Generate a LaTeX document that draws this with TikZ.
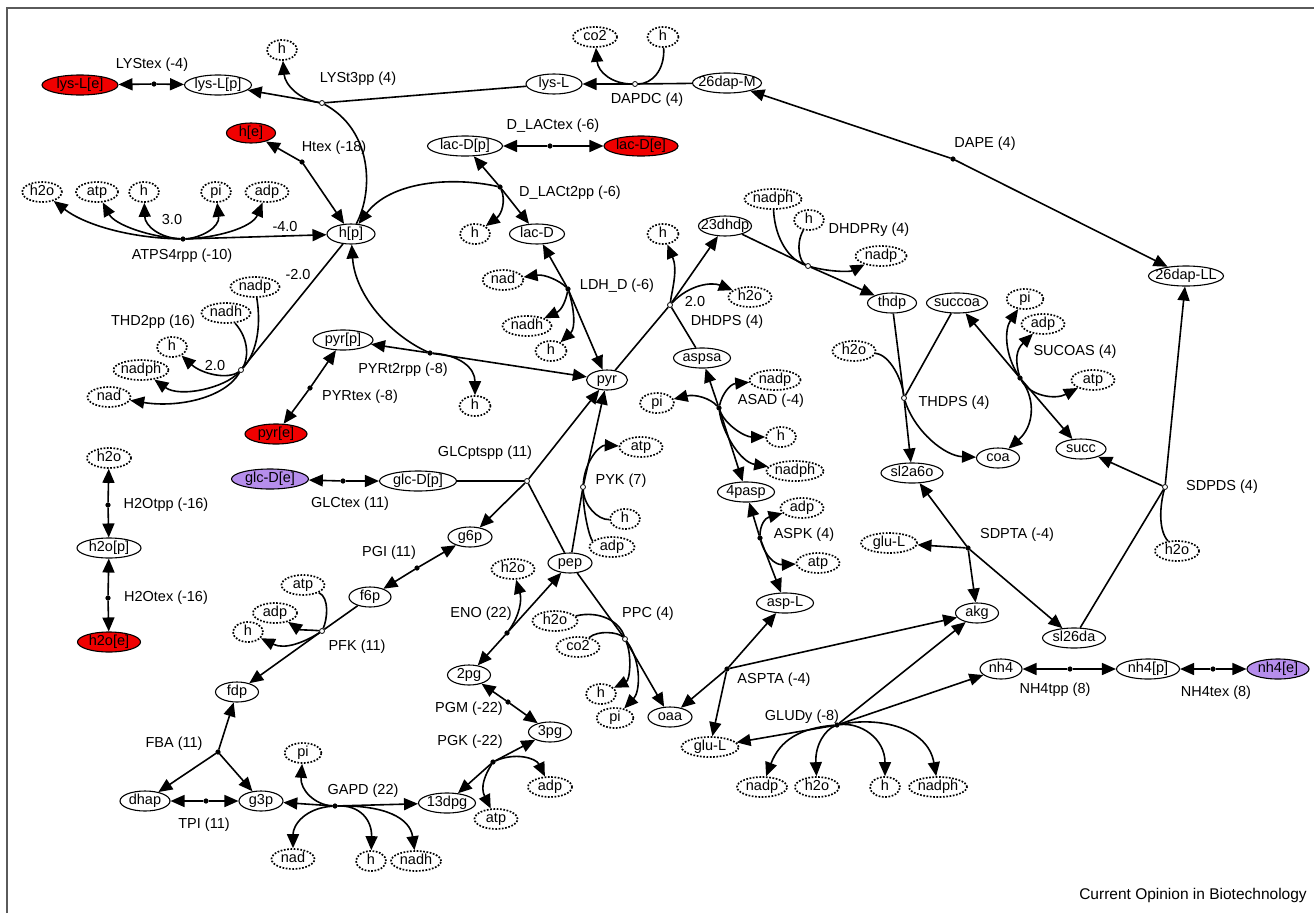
\documentclass[tikz,border=0pt]{standalone}
\usepackage{fontspec}
\setmainfont{Liberation Sans}
\usetikzlibrary{arrows.meta,shapes.geometric}
\definecolor{exred}{RGB}{240,0,0}
\definecolor{exvio}{RGB}{182,142,236}
\definecolor{framec}{RGB}{90,90,90}
\newcommand\cl[1]{\hbox to 0pt{\hss#1\hss}}
\newcommand\N[5]{\node[#1,minimum width=#5pt] (#2) at (#3) {\cl{#4}};}
\begin{document}
\begin{tikzpicture}[x=1pt,y=-1pt,
  every node/.style={font=\fontsize{14.5}{17}\selectfont},
  base/.style={ellipse, inner sep=0pt, minimum height=20pt, text height=10.5pt, text depth=3pt, line width=1.1pt},
  met/.style={base, draw, fill=white},
  cof/.style={base, draw, line width=1.7pt, dash pattern=on 1.7pt off 1.6pt, fill=white},
  exr/.style={base, draw, fill=exred},
  exv/.style={base, draw, fill=exvio},
  rf/.style={circle, draw, fill=black, inner sep=0pt, minimum size=4.5pt, line width=0.6pt},
  ro/.style={circle, draw, fill=white, inner sep=0pt, minimum size=5pt, line width=0.8pt},
  lbl/.style={inner sep=0pt},
  ed/.style={line width=1.6pt},
  ar/.style={ed, -{Triangle[length=14pt,width=12pt]}},
]
\useasboundingbox (0,0) rectangle (1314,913);
\draw[framec, line width=2.5pt] (7,913) -- (7,8) -- (1314,8);

% ---------- metabolite nodes ----------
\N{exr}{lysLe}{80,85}{lys-L[e]}{76}
\N{met}{lysLp}{218,85}{lys-L[p]}{67}
\N{cof}{hA}{282,50}{h}{30}
\N{met}{lysL}{554,84}{lys-L}{56}
\N{cof}{coA}{595,37}{co2}{44}
\N{cof}{hB}{663,37}{h}{31}
\N{met}{dapM}{727,83}{26dap-M}{69}
\N{met}{dapLL}{1186,276}{26dap-LL}{75}
\N{met}{lacDp}{465,146}{lac-D[p]}{75}
\N{exr}{lacDe}{641,146}{lac-D[e]}{74}
\N{exr}{he}{251,133}{h[e]}{49}
\N{met}{hp}{351,234}{h[p]}{48}
\N{cof}{hC}{475,234}{h}{30}
\N{met}{lacD}{537,234}{lac-D}{55}
\N{cof}{h2oA}{42,192}{h2o}{40}
\N{cof}{atpA}{97,192}{atp}{42}
\N{cof}{hD}{144,192}{h}{30}
\N{cof}{piA}{216,192}{pi}{30}
\N{cof}{adpA}{267,192}{adp}{43}
\N{cof}{nadpA}{255,287}{nadp}{49}
\N{cof}{nadhA}{226,313}{nadh}{49}
\N{cof}{hE}{172,347}{h}{30}
\N{cof}{nadphA}{141,370}{nadph}{55}
\N{cof}{nadA}{109,397}{nad}{43}
\N{met}{pyrp}{343,340}{pyr[p]}{60}
\N{exr}{pyre}{276,434}{pyr[e]}{62}
\N{cof}{hF}{475,406}{h}{31}
\N{met}{pyr}{607,380}{pyr}{41}
\N{cof}{nadB}{503,280}{nad}{41}
\N{cof}{nadhB}{527,326}{nadh}{49}
\N{cof}{hG}{551,351}{h}{31}
\N{met}{dhdp}{725,226}{23dhdp}{53}
\N{cof}{hH}{663,234}{h}{31}
\N{cof}{h2oB}{750,297}{h2o}{43}
\N{met}{aspsa}{702,358}{aspsa}{57}
\N{cof}{nadphB}{773,199}{nadph}{57}
\N{cof}{hI}{809,220}{h}{30}
\N{cof}{nadpB}{881,256}{nadp}{51}
\N{met}{thdp}{892,303}{thdp}{49}
\N{met}{succoa}{957,303}{succoa}{61}
\N{cof}{piB}{1025,299}{pi}{37}
\N{cof}{adpB}{1043,324}{adp}{43}
\N{cof}{atpB}{1093,380}{atp}{43}
\N{met}{coa}{998,458}{coa}{43}
\N{met}{succ}{1081,449}{succ}{50}
\N{cof}{h2oC}{1177,551}{h2o}{44}
\N{cof}{h2oD}{854,351}{h2o}{43}
\N{met}{sla}{912,473}{sl2a6o}{62}
\N{cof}{gluA}{889,543}{glu-L}{56}
\N{met}{akg}{977,613}{akg}{43}
\N{met}{sld}{1074,638}{sl26da}{63}
\N{met}{nh4}{1001,669}{nh4}{42}
\N{met}{nh4p}{1148,669}{nh4[p]}{63}
\N{exv}{nh4e}{1278,669}{nh4[e]}{62}
\N{met}{aspL}{785,603}{asp-L}{57}
\N{met}{oaa}{670,717}{oaa}{44}
\N{cof}{gluB}{710,747}{glu-L}{57}
\N{cof}{nadpC}{762,787}{nadp}{50}
\N{cof}{h2oE}{817,787}{h2o}{44}
\N{cof}{hJ}{885,787}{h}{30}
\N{cof}{nadphC}{938,787}{nadph}{58}
\N{met}{pasp}{746,492}{4pasp}{57}
\N{cof}{piC}{657,403}{pi}{34}
\N{cof}{nadpD}{775,380}{nadp}{51}
\N{cof}{hK}{781,437}{h}{30}
\N{cof}{nadphD}{795,471}{nadph}{57}
\N{cof}{adpC}{802,508}{adp}{43}
\N{cof}{atpC}{818,563}{atp}{43}
\N{cof}{atpD}{641,447}{atp}{43}
\N{cof}{hL}{625,519}{h}{30}
\N{cof}{adpD}{612,547}{adp}{45}
\N{met}{pep}{570,563}{pep}{44}
\N{met}{glcDp}{418,481}{glc-D[p]}{77}
\N{exv}{glcDe}{270,479}{glc-D[e]}{77}
\N{met}{gsp}{470,537}{g6p}{44}
\N{met}{fsp}{370,597}{f6p}{42}
\N{cof}{atpE}{303,585}{atp}{43}
\N{cof}{adpE}{275,613}{adp}{44}
\N{cof}{hM}{248,632}{h}{30}
\N{met}{fdp}{237,692}{fdp}{43}
\N{met}{dhap}{145,801}{dhap}{50}
\N{met}{gtp}{261,801}{g3p}{44}
\N{cof}{piD}{303,753}{pi}{37}
\N{cof}{nadC}{293,859}{nad}{43}
\N{cof}{hN}{371,861}{h}{30}
\N{cof}{nadhC}{416,861}{nadh}{50}
\N{met}{dpg}{447,803}{13dpg}{57}
\N{met}{pgt}{550,732}{3pg}{43}
\N{cof}{adpF}{550,787}{adp}{44}
\N{cof}{atpF}{496,819}{atp}{43}
\N{met}{pgd}{469,675}{2pg}{43}
\N{cof}{h2oF}{513,569}{h2o}{43}
\N{cof}{h2oG}{555,621}{h2o}{45}
\N{cof}{coB}{578,647}{co2}{43}
\N{cof}{hO}{601,694}{h}{30}
\N{cof}{piE}{615,718}{pi}{37}
\N{cof}{h2oH}{109,458}{h2o}{44}
\N{met}{h2op}{109,548}{h2o[p]}{64}
\N{exr}{h2oe}{109,642}{h2o[e]}{63}

% ---------- reaction points ----------
\node[rf] (rLYStex) at (154,84) {};
\node[ro] (rLYSt3pp) at (322,103) {};
\node[ro] (rDAPDC) at (635,84) {};
\node[rf] (rDAPE) at (953,159) {};
\node[rf] (rDLACtex) at (550,146) {};
\node[rf] (rDLACt2pp) at (500,187) {};
\node[rf] (rHtex) at (302,162) {};
\node[rf] (rATPS) at (183,239) {};
\node[ro] (rTHD) at (241,370) {};
\node[rf] (rPYRtex) at (310,388) {};
\node[rf] (rPYRt2) at (430,353) {};
\node[rf] (rLDH) at (568,289) {};
\node[ro] (rDHDPS) at (670,305) {};
\node[ro] (rDHDPR) at (808,266) {};
\node[rf] (rSUCOAS) at (1020,378) {};
\node[ro] (rTHDPS) at (904,398) {};
\node[ro] (rSDPDS) at (1165,487) {};
\node[rf] (rSDPTA) at (968,548) {};
\node[rf] (rNHtpp) at (1070,669) {};
\node[rf] (rNHtex) at (1213,669) {};
\node[rf] (rASPTA) at (727,669) {};
\node[rf] (rGLUDy) at (837,725) {};
\node[rf] (rASAD) at (719,408) {};
\node[rf] (rASPK) at (760,538) {};
\node[ro] (rPYK) at (583,487) {};
\node[ro] (rGLCpt) at (527,481) {};
\node[rf] (rGLCtex) at (343,481) {};
\node[rf] (rPGI) at (417,568) {};
\node[ro] (rPFK) at (322,631) {};
\node[rf] (rFBA) at (218,752) {};
\node[rf] (rTPI) at (206,801) {};
\node[rf] (rGAPD) at (335,806) {};
\node[rf] (rPGK) at (493,762) {};
\node[rf] (rPGM) at (508,702) {};
\node[rf] (rENO) at (507,633) {};
\node[ro] (rPPC) at (625,639) {};
\node[rf] (rHtpp) at (108,505) {};
\node[rf] (rHtex2) at (108,598) {};

% ---------- labels ----------
\node[lbl] (lLYStex) at (152,65) {LYStex (-4)};
\node[lbl] (lLYSt3pp) at (358,79) {LYSt3pp (4)};
\node[lbl] (lDAPDC) at (647,100) {DAPDC (4)};
\node[lbl] (lDAPE) at (985,144) {DAPE (4)};
\node[lbl] (lDLACtex) at (553,126) {D\_LACtex (-6)};
\node[lbl] (lDLACt2pp) at (570,193) {D\_LACt2pp (-6)};
\node[lbl] (lHtex) at (334,148) {Htex (-18)};
\node[lbl] (lATPS) at (182,256) {ATPS4rpp (-10)};
\node[lbl] (lATPSa) at (172,220) {3.0};
\node[lbl] (lATPSb) at (285,227) {-4.0};
\node[lbl] (lTHDa) at (298,275) {-2.0};
\node[lbl] (lTHD) at (153,322) {THD2pp (16)};
\node[lbl] (lTHDb) at (215,366) {2.0};
\node[lbl] (lPYRtex) at (360,397) {PYRtex (-8)};
\node[lbl] (lPYRt2) at (403,370) {PYRt2rpp (-8)};
\node[lbl] (lLDH) at (617,286) {LDH\_D (-6)};
\node[lbl] (lDHDPSa) at (695,302) {2.0};
\node[lbl] (lDHDPS) at (727,322) {DHDPS (4)};
\node[lbl] (lDHDPR) at (869,230) {DHDPRy (4)};
\node[lbl] (lSUCOAS) at (1075,352) {SUCOAS (4)};
\node[lbl] (lTHDPS) at (954,403) {THDPS (4)};
\node[lbl] (lSDPDS) at (1222,487) {SDPDS (4)};
\node[lbl] (lSDPTA) at (1017,535) {SDPTA (-4)};
\node[lbl] (lNHtpp) at (1055,690) {NH4tpp (8)};
\node[lbl] (lNHtex) at (1216,693) {NH4tex (8)};
\node[lbl] (lASPTA) at (774,680) {ASPTA (-4)};
\node[lbl] (lGLUDy) at (802,717) {GLUDy (-8)};
\node[lbl] (lASAD) at (771,401) {ASAD (-4)};
\node[lbl] (lASPK) at (804,535) {ASPK (4)};
\node[lbl] (lPYK) at (621,481) {PYK (7)};
\node[lbl] (lGLCpt) at (485,453) {GLCptspp (11)};
\node[lbl] (lGLCtex) at (350,504) {GLCtex (11)};
\node[lbl] (lPGI) at (389,553) {PGI (11)};
\node[lbl] (lPFK) at (357,647) {PFK (11)};
\node[lbl] (lFBA) at (174,744) {FBA (11)};
\node[lbl] (lTPI) at (204,825) {TPI (11)};
\node[lbl] (lGAPD) at (363,791) {GAPD (22)};
\node[lbl] (lPGK) at (470,742) {PGK (-22)};
\node[lbl] (lPGM) at (469,709) {PGM (-22)};
\node[lbl] (lENO) at (481,614) {ENO (22)};
\node[lbl] (lPPC) at (648,614) {PPC (4)};
\node[lbl] (lHtpp) at (166,505) {H2Otpp (-16)};
\node[lbl] (lHtex2) at (166,598) {H2Otex (-16)};
\node[lbl,font=\fontsize{15.5}{18}\selectfont] (credit) at (1193,895) {Current Opinion in Biotechnology};

% ---------- edges ----------
% LYStex
\draw[ar] (rLYStex) -- (lysLe);
\draw[ar] (rLYStex) -- (lysLp);
% LYSt3pp
\draw[ed] (lysL) -- (rLYSt3pp);
\draw[ar] (rLYSt3pp) -- (lysLp);
\draw[ar] (rLYSt3pp) .. controls (300,100) and (285,85) .. (hA);
\draw[ed] (rLYSt3pp) .. controls (372,130) and (374,190) .. (hp);
% DAPDC
\draw[ed] (dapM) -- (rDAPDC);
\draw[ar] (rDAPDC) -- (lysL);
\draw[ar] (rDAPDC) .. controls (612,84) and (598,72) .. (coA);
\draw[ed] (hB) .. controls (665,70) and (652,84) .. (rDAPDC);
% DAPE
\draw[ar] (rDAPE) -- (dapM);
\draw[ar] (rDAPE) -- (dapLL);
% D_LACtex
\draw[ar] (rDLACtex) -- (lacDp);
\draw[ar] (rDLACtex) -- (lacDe);
% D_LACt2pp
\draw[ar] (rDLACt2pp) -- (lacDp);
\draw[ar] (rDLACt2pp) -- (lacD);
\draw[ar] (rDLACt2pp) .. controls (450,176) and (390,182) .. (hp);
\draw[ar] (rDLACt2pp) .. controls (506,200) and (502,214) .. (hC);
% Htex
\draw[ar] (rHtex) -- (he);
\draw[ar] (rHtex) -- (hp);
% ATPS4rpp
\draw[ar] (rATPS) .. controls (130,238) and (85,225) .. (h2oA);
\draw[ar] (rATPS) .. controls (150,237) and (115,225) .. (atpA);
\draw[ar] (rATPS) .. controls (160,238) and (145,226) .. (hD);
\draw[ar] (rATPS) .. controls (200,238) and (220,228) .. (piA);
\draw[ar] (rATPS) .. controls (215,238) and (252,228) .. (adpA);
\draw[ar] (rATPS) -- (hp);
% THD2pp
\draw[ed] (hp) -- (rTHD);
\draw[ed] (nadpA) .. controls (262,330) and (255,355) .. (rTHD);
\draw[ed] (nadhA) .. controls (250,340) and (248,360) .. (rTHD);
\draw[ar] (rTHD) .. controls (228,380) and (202,374) .. (hE);
\draw[ar] (rTHD) .. controls (225,388) and (180,398) .. (nadphA);
\draw[ar] (rTHD) .. controls (225,398) and (178,408) .. (nadA);
% PYRtex
\draw[ar] (rPYRtex) -- (pyrp);
\draw[ar] (rPYRtex) -- (pyre);
% PYRt2rpp
\draw[ar] (rPYRt2) -- (pyrp);
\draw[ar] (rPYRt2) -- (pyr);
\draw[ar] (rPYRt2) .. controls (390,335) and (355,295) .. (hp);
\draw[ar] (rPYRt2) .. controls (460,355) and (475,368) .. (hF);
% LDH_D
\draw[ar] (rLDH) -- (lacD);
\draw[ar] (rLDH) -- (pyr);
\draw[ar] (rLDH) .. controls (560,281) and (545,274) .. (nadB);
\draw[ar] (rLDH) .. controls (566,300) and (562,310) .. (nadhB);
\draw[ar] (rLDH) .. controls (574,308) and (576,328) .. (hG);
% DHDPS
\draw[ed] (pyr) -- (rDHDPS);
\draw[ed] (aspsa) -- (rDHDPS);
\draw[ar] (rDHDPS) -- (dhdp);
\draw[ar] (rDHDPS) .. controls (672,290) and (678,270) .. (hH);
\draw[ar] (rDHDPS) .. controls (690,284) and (712,282) .. (h2oB);
% DHDPRy
\draw[ed] (dhdp) -- (rDHDPR);
\draw[ar] (rDHDPR) -- (thdp);
\draw[ed] (nadphB) .. controls (775,240) and (790,260) .. (rDHDPR);
\draw[ed] (hI) .. controls (795,245) and (800,262) .. (rDHDPR);
\draw[ar] (rDHDPR) .. controls (830,272) and (850,272) .. (nadpB);
% THDPS
\draw[ed] (thdp) -- (rTHDPS);
\draw[ed] (succoa) -- (rTHDPS);
\draw[ed] (h2oD) .. controls (890,355) and (902,380) .. (rTHDPS);
\draw[ar] (rTHDPS) -- (sla);
\draw[ar] (rTHDPS) .. controls (915,432) and (945,456) .. (coa);
% SUCOAS
\draw[ar] (rSUCOAS) -- (succoa);
\draw[ar] (rSUCOAS) -- (succ);
\draw[ar] (rSUCOAS) .. controls (1005,355) and (1004,330) .. (piB);
\draw[ar] (rSUCOAS) .. controls (1015,360) and (1016,350) .. (adpB);
\draw[ar] (rSUCOAS) .. controls (1030,396) and (1055,400) .. (atpB);
\draw[ar] (rSUCOAS) .. controls (1036,400) and (1034,426) .. (coa);
% SDPDS
\draw[ed] (sld) -- (rSDPDS);
\draw[ar] (rSDPDS) -- (dapLL);
\draw[ar] (rSDPDS) -- (succ);
\draw[ed] (h2oC) .. controls (1158,530) and (1160,505) .. (rSDPDS);
% SDPTA
\draw[ar] (rSDPTA) -- (sla);
\draw[ar] (rSDPTA) -- (sld);
\draw[ar] (rSDPTA) -- (gluA);
\draw[ar] (rSDPTA) -- (akg);
% NH4
\draw[ar] (rNHtpp) -- (nh4);
\draw[ar] (rNHtpp) -- (nh4p);
\draw[ar] (rNHtex) -- (nh4p);
\draw[ar] (rNHtex) -- (nh4e);
% ASPTA
\draw[ar] (rASPTA) -- (aspL);
\draw[ar] (rASPTA) -- (akg);
\draw[ar] (rASPTA) -- (oaa);
\draw[ar] (rASPTA) -- (gluB);
% GLUDy
\draw[ar] (rGLUDy) -- (akg);
\draw[ar] (rGLUDy) -- (nh4);
\draw[ar] (rGLUDy) -- (gluB);
\draw[ar] (rGLUDy) .. controls (800,728) and (780,740) .. (nadpC);
\draw[ar] (rGLUDy) .. controls (825,730) and (815,745) .. (h2oE);
\draw[ar] (rGLUDy) .. controls (860,722) and (885,738) .. (hJ);
\draw[ar] (rGLUDy) .. controls (880,716) and (928,728) .. (nadphC);
% ASAD
\draw[ar] (rASAD) -- (aspsa);
\draw[ar] (rASAD) -- (pasp);
\draw[ar] (rASAD) .. controls (710,398) and (695,394) .. (piC);
\draw[ar] (rASAD) .. controls (722,394) and (730,384) .. (nadpD);
\draw[ar] (rASAD) .. controls (725,425) and (745,437) .. (hK);
\draw[ar] (rASAD) .. controls (722,432) and (740,462) .. (nadphD);
% ASPK
\draw[ar] (rASPK) -- (pasp);
\draw[ar] (rASPK) -- (aspL);
\draw[ar] (rASPK) .. controls (760,525) and (765,518) .. (adpC);
\draw[ar] (rASPK) .. controls (765,556) and (775,565) .. (atpC);
% PYK
\draw[ed] (pep) -- (rPYK);
\draw[ar] (rPYK) -- (pyr);
\draw[ar] (rPYK) .. controls (585,460) and (600,445) .. (atpD);
\draw[ed] (hL) .. controls (598,520) and (584,506) .. (rPYK);
\draw[ed] (adpD) .. controls (590,540) and (583,512) .. (rPYK);
% GLCptspp
\draw[ed] (glcDp) -- (rGLCpt);
\draw[ed] (pep) -- (rGLCpt);
\draw[ar] (rGLCpt) -- (pyr);
\draw[ar] (rGLCpt) -- (gsp);
% GLCtex
\draw[ar] (rGLCtex) -- (glcDe);
\draw[ar] (rGLCtex) -- (glcDp);
% PGI
\draw[ar] (rPGI) -- (gsp);
\draw[ar] (rPGI) -- (fsp);
% PFK
\draw[ed] (fsp) -- (rPFK);
\draw[ar] (rPFK) -- (fdp);
\draw[ed] (atpE) .. controls (330,598) and (327,620) .. (rPFK);
\draw[ar] (rPFK) .. controls (312,630) and (300,630) .. (adpE);
\draw[ar] (rPFK) .. controls (305,642) and (285,650) .. (hM);
% FBA, TPI
\draw[ar] (rFBA) -- (fdp);
\draw[ar] (rFBA) -- (dhap);
\draw[ar] (rFBA) -- (gtp);
\draw[ar] (rTPI) -- (dhap);
\draw[ar] (rTPI) -- (gtp);
% GAPD
\draw[ar] (rGAPD) -- (gtp);
\draw[ar] (rGAPD) -- (dpg);
\draw[ar] (rGAPD) .. controls (315,805) and (300,790) .. (piD);
\draw[ar] (rGAPD) .. controls (305,808) and (293,825) .. (nadC);
\draw[ar] (rGAPD) .. controls (360,805) and (372,820) .. (hN);
\draw[ar] (rGAPD) .. controls (385,805) and (410,818) .. (nadhC);
% PGK
\draw[ar] (rPGK) -- (pgt);
\draw[ar] (rPGK) -- (dpg);
\draw[ar] (rPGK) .. controls (515,752) and (536,758) .. (adpF);
\draw[ar] (rPGK) .. controls (485,775) and (480,787) .. (atpF);
% PGM
\draw[ar] (rPGM) -- (pgd);
\draw[ar] (rPGM) -- (pgt);
% ENO
\draw[ar] (rENO) -- (pep);
\draw[ar] (rENO) -- (pgd);
\draw[ar] (rENO) .. controls (520,615) and (522,600) .. (h2oF);
% PPC
\draw[ed] (pep) -- (rPPC);
\draw[ar] (rPPC) -- (oaa);
\draw[ed] (h2oG) .. controls (600,610) and (620,622) .. (rPPC);
\draw[ed] (coB) .. controls (598,630) and (618,632) .. (rPPC);
\draw[ar] (rPPC) .. controls (632,655) and (630,680) .. (hO);
\draw[ar] (rPPC) .. controls (642,662) and (640,692) .. (piE);
% H2O transport
\draw[ar] (rHtpp) -- (h2oH);
\draw[ar] (rHtpp) -- (h2op);
\draw[ar] (rHtex2) -- (h2op);
\draw[ar] (rHtex2) -- (h2oe);
\end{tikzpicture}
\end{document}
